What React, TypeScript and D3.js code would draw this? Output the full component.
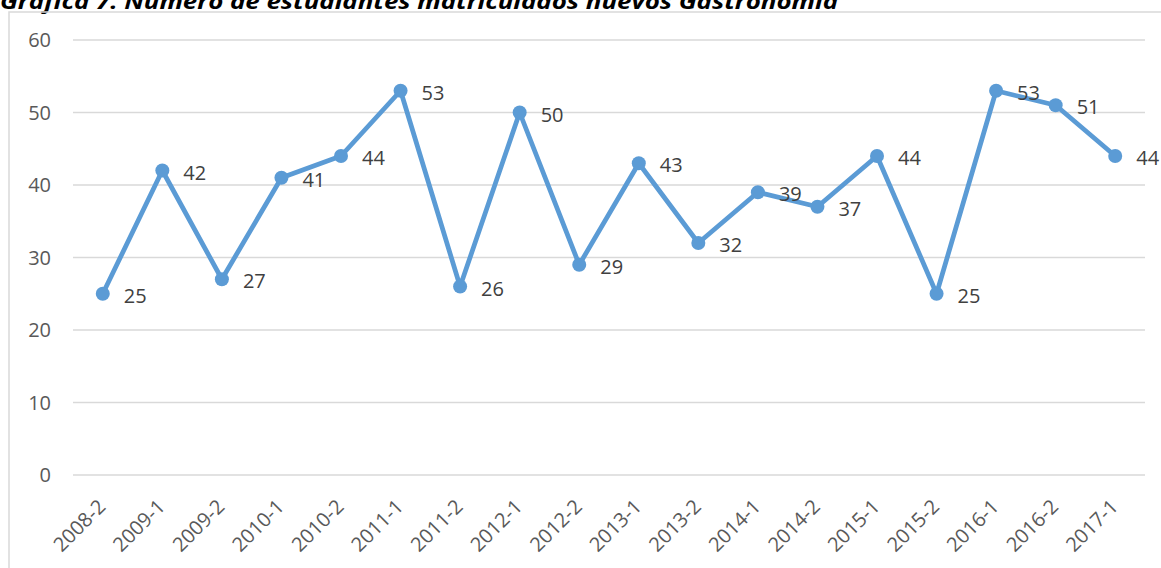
import React from "react";
import * as d3 from "d3";

const categories = ["2008-2","2009-1","2009-2","2010-1","2010-2","2011-1","2011-2","2012-1","2012-2","2013-1","2013-2","2014-1","2014-2","2015-1","2015-2","2016-1","2016-2","2017-1"];
const values = [25,42,27,41,44,53,26,50,29,43,32,39,37,44,25,53,51,44];
const yTicks = [0,10,20,30,40,50,60];
const title = "Gráfica 7. Número de estudiantes matriculados nuevos Gastronomía";

const W = 1161, H = 568;
const FONT = "'Open Sans', sans-serif";

export default function App() {
  const x = d3.scalePoint<string>().domain(categories).range([73, 1145]).padding(0.5);
  const y = d3.scaleLinear().domain([0, 60]).range([475, 40]);
  const line = d3.line<number>().x((_, i) => x(categories[i])!).y(d => y(d));
  return (
    <svg width={W} height={H} style={{ position: "absolute", left: 0, top: 0, background: "#fff" }}>
      <text x={0} y={8.5} fontFamily={FONT} fontWeight="bold" fontStyle="italic" fontSize={21} fill="#000" textLength={838} lengthAdjust="spacingAndGlyphs">{title}</text>
      <rect x={9} y={12} width={1170} height={600} fill="none" stroke="#d9d9d9" strokeWidth={1.5} />
      {yTicks.map(t => (
        <g key={t}>
          <line x1={73} x2={1145} y1={y(t)} y2={y(t)} stroke="#d9d9d9" strokeWidth={1.3} />
          <text x={51} y={y(t)} dy="0.35em" textAnchor="end" fontFamily={FONT} fontSize={20} fill="#595959">{t}</text>
        </g>
      ))}
      {categories.map(c => (
        <text key={c} transform={`translate(${x(c)! + 4},${508}) rotate(-45)`} textAnchor="end" fontFamily={FONT} fontSize={20} fill="#595959">{c}</text>
      ))}
      <path d={line(values)!} fill="none" stroke="#5b9bd5" strokeWidth={4.75} strokeLinejoin="round" />
      {values.map((v, i) => (
        <circle key={i} cx={x(categories[i])!} cy={y(v)} r={7} fill="#5b9bd5" />
      ))}
      {values.map((v, i) => (
        <text key={i} x={x(categories[i])! + 21} y={y(v) + 2} dy="0.35em" fontFamily={FONT} fontSize={20} fill="#404040">{v}</text>
      ))}
    </svg>
  );
}
